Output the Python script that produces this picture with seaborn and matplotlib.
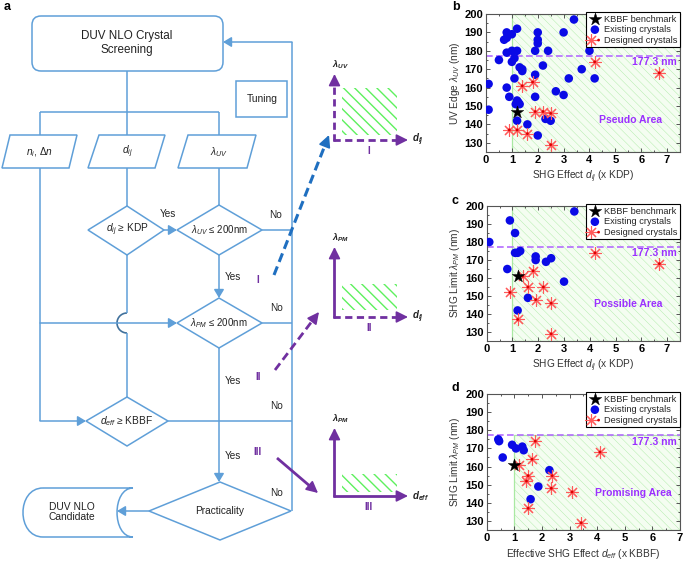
import matplotlib
matplotlib.use('Agg')
import matplotlib.pyplot as plt
import seaborn as sns
import numpy as np
import pandas as pd
from matplotlib.patches import Polygon, Rectangle, FancyBboxPatch, PathPatch, Arc
from matplotlib.path import Path
from matplotlib.ticker import MultipleLocator
from matplotlib.legend_handler import HandlerTuple

# ---------------- data ----------------
b_exist_x = [0.8, 1.0, 0.7, 0.8, 1.2, 0.8, 1.0, 1.2, 1.9, 2.4, 0.5, 1.1, 1.0, 1.3, 1.4, 1.4, 2.2, 1.9,
             1.1, 3.2, 0.8, 2.7, 3.0, 1.9, 0.9, 1.2, 1.25, 1.15, 1.3, 2.3, 2.5, 1.2, 1.6, 2.0,
             2.0, 2.0, 2.0, 3.0, 3.4, 4.0, 3.7, 4.2, 0.1, 0.1]
b_exist_y = [190, 189, 186, 187, 192, 179, 180, 180, 180, 180, 175, 176, 174, 171, 170, 169, 172, 167,
             165, 165, 160, 158, 156, 155, 155, 153, 152, 151, 151, 143, 142, 142, 140, 134,
             190, 186, 184, 190, 197, 180, 170, 165, 162, 148]
b_design_x = [1.4, 1.8, 1.9, 2.2, 2.5, 0.9, 1.2, 1.6, 2.5, 4.2, 6.7]
b_design_y = [161, 163, 147, 147, 146, 137, 137, 135, 129, 174, 168]
b_kbbf_x = [1.2]
b_kbbf_y = [147]

c_exist_x = [0.1, 0.9, 1.1, 1.1, 1.2, 1.3, 1.9, 1.9, 2.3, 2.5, 0.8, 3.0, 1.6, 1.2, 3.4]
c_exist_y = [180, 192, 185, 174, 174, 175, 172, 170, 169, 171, 165, 158, 149, 142, 197]
c_design_x = [1.4, 1.8, 0.9, 1.6, 2.2, 1.9, 2.5, 1.2, 2.5, 4.2, 6.7]
c_design_y = [161, 164, 152, 155, 155, 148, 146, 137, 129, 174, 168]
c_kbbf_x = [1.2]
c_kbbf_y = [161]

d_exist_x = [0.42, 0.45, 0.58, 0.92, 1.06, 1.29, 1.34, 2.27, 1.87, 1.59]
d_exist_y = [175, 174, 165, 172, 170, 171, 169, 158, 149, 142]
d_design_x = [1.76, 1.64, 1.16, 1.5, 1.44, 2.37, 2.34, 3.09, 1.5, 4.1, 3.42]
d_design_y = [174, 164, 161, 155, 152, 155, 148, 146, 137, 168, 129]
d_kbbf_x = [1.0]
d_kbbf_y = [161]

limit_nm = 177.3
legend_labels = ['KBBF benchmark', 'Existing crystals', 'Designed crystals']

# ---------------- style ----------------
sns.set_style('ticks')
plt.rcParams['font.family'] = ['Liberation Sans', 'DejaVu Sans']
plt.rcParams['mathtext.fontset'] = 'custom'
plt.rcParams['mathtext.rm'] = 'Liberation Sans'
plt.rcParams['mathtext.it'] = 'Liberation Sans:italic'
plt.rcParams['mathtext.bf'] = 'Liberation Sans:bold'
plt.rcParams['mathtext.bfit'] = 'Liberation Sans:italic:bold'

FC = '#5f9fd8'      # flowchart line colour
TXT = '#222222'
PURPLE = '#7030a0'
VIOLET = '#9b30ff'

fig = plt.figure(figsize=(6.85, 5.62), dpi=100)
ax0 = fig.add_axes([0, 0, 1, 1])
ax0.set_xlim(0, 685)
ax0.set_ylim(562, 0)
ax0.axis('off')


def line(xs, ys, color=FC, lw=1.1, **kw):
    ax0.plot(xs, ys, color=color, lw=lw, solid_capstyle='butt', **kw)


def arrow(p0, p1, color=FC, lw=1.1, hl=0.5, hw=0.3, ms=10):
    ax0.annotate('', xy=p1, xytext=p0,
                 arrowprops=dict(arrowstyle='-|>,head_length=%s,head_width=%s' % (hl, hw),
                                 color=color, lw=lw, shrinkA=0, shrinkB=0, mutation_scale=ms))


def styled_arrow(p0, p1, color, lw, dashes=None, head=9):
    p0 = np.array(p0, float)
    p1 = np.array(p1, float)
    v = p1 - p0
    v = v / np.hypot(*v)
    pb = p1 - v * head
    kw = {}
    if dashes is not None:
        kw['dashes'] = dashes
    ax0.plot([p0[0], pb[0] + v[0] * 2], [p0[1], pb[1] + v[1] * 2], color=color, lw=lw,
             solid_capstyle='butt', dash_capstyle='butt', **kw)
    ax0.annotate('', xy=tuple(p1), xytext=tuple(pb),
                 arrowprops=dict(arrowstyle='-|>,head_length=0.7,head_width=0.35', color=color,
                                 lw=lw * 0.6, shrinkA=0, shrinkB=0, mutation_scale=10))


def poly(pts, **kw):
    ax0.add_patch(Polygon(pts, closed=True, facecolor='white', edgecolor=FC, lw=1.1, **kw))


def label(x, y, s, size=7.3, color=TXT, **kw):
    ax0.text(x, y, s, ha='center', va='center', fontsize=size, color=color, **kw)


# ---- panel a: flowchart ----
ax0.add_patch(FancyBboxPatch((32, 16), 191, 55, boxstyle='round,pad=0,rounding_size=9',
                             facecolor='white', edgecolor=FC, lw=1.1))
label(127, 43, 'DUV NLO Crystal\nScreening', size=8.4, linespacing=1.15)
ax0.add_patch(Rectangle((236, 81), 51, 36, facecolor='white', edgecolor=FC, lw=1.1))
label(262, 99, 'Tuning', size=7.4)

line([127, 127], [71, 112])
line([40, 219], [112, 112])
for xx in (40, 127, 219):
    line([xx, xx], [112, 135])

poly([(10, 135), (77, 135), (69, 168), (2, 168)])
poly([(99, 135), (165, 135), (155, 168), (88, 168)])
poly([(188, 135), (256, 135), (247, 168), (178, 168)])
label(40, 152, r'$n_i$, $\Delta n$', size=7.3)
label(127, 152, r'$d_{ij}$', size=7.3)
label(219, 152, r'$\lambda_{UV}$', size=7.3)

# left branch
line([40, 40], [168, 421])
arrow((40, 421), (86, 421))
arrow((40, 323), (177, 323))
# middle branch
line([127, 127], [168, 206])
line([127, 127], [255, 313])
line([127, 127], [333, 397])
ax0.add_patch(Arc((127, 323), 20, 20, theta1=90, theta2=270, color='#41719c', lw=1.2))
arrow((164, 230), (177, 230))
# right branch
line([219, 219], [168, 205])
arrow((219, 255), (219, 298))
arrow((219, 348), (219, 482))
line([262, 292], [230, 230])
line([262, 292], [323, 323])
line([168, 292], [421, 421])
line([292, 292], [42, 511])
arrow((292, 42), (223, 42))
arrow((149, 511), (117, 511))

poly([(127, 206), (164, 230), (127, 255), (88, 230)])
poly([(219, 205), (262, 230), (219, 255), (177, 230)])
poly([(219, 298), (262, 323), (219, 348), (177, 323)])
poly([(127, 397), (168, 421), (127, 446), (86, 421)])
poly([(220, 482), (291, 511), (220, 540), (149, 511)])
label(127, 230, r'$d_{ij}$ ≥ KDP', size=7.3)
label(219, 230, r'$\lambda_{UV}$ ≤ 200nm', size=7.0)
label(219, 323, r'$\lambda_{PM}$ ≤ 200nm', size=7.0)
label(127, 421, r'$d_{eff}$ ≥ KBBF', size=7.3)
label(220, 511, 'Practicality', size=7.3)

verts = [(43, 488), (133, 488), (111.7, 488), (111.7, 537), (133, 537), (43, 537),
         (16.3, 537), (16.3, 488), (43, 488)]
codes = [Path.MOVETO, Path.LINETO, Path.CURVE4, Path.CURVE4, Path.CURVE4, Path.LINETO,
         Path.CURVE4, Path.CURVE4, Path.CURVE4]
ax0.add_patch(PathPatch(Path(verts, codes), facecolor='white', edgecolor=FC, lw=1.1))
label(72, 512, 'DUV NLO\nCandidate', size=7.4, linespacing=1.1)

for (x, y, s) in [(168, 214, 'Yes'), (276, 215, 'No'), (233, 277, 'Yes'), (277, 308, 'No'),
                  (233, 381, 'Yes'), (277, 406, 'No'), (233, 456, 'Yes'), (277, 493, 'No')]:
    label(x, y, s, size=7.2)
for (x, y, s) in [(258, 280, 'I'), (258, 377, 'II'), (258, 452, 'III')]:
    label(x, y, s, size=7.2, color=PURPLE, fontweight='bold')

# arrows to the small diagrams
styled_arrow((274, 275), (329, 135), '#1f6fc0', 2.2, dashes=(3, 1.6))
styled_arrow((275, 370), (319, 312), PURPLE, 2.0, dashes=(3, 1.6))
styled_arrow((277, 458), (318, 493), PURPLE, 2.0)

# small diagrams I, II, III
diagrams = [
    dict(y0=140, tip=74, rect=(88, 135), ylab=r'$\mathbfit{\lambda}_{\mathbfit{UV}}$',
         xlab=r'$\mathbfit{d}_{\mathbfit{ij}}$', roman='I', ydash=True, xdash=True),
    dict(y0=317, tip=247, rect=(284, 310), ylab=r'$\mathbfit{\lambda}_{\mathbfit{PM}}$',
         xlab=r'$\mathbfit{d}_{\mathbfit{ij}}$', roman='II', ydash=False, xdash=True),
    dict(y0=496, tip=428, rect=(474, 492), ylab=r'$\mathbfit{\lambda}_{\mathbfit{PM}}$',
         xlab=r'$\mathbfit{d}_{\mathbfit{eff}}$', roman='III', ydash=False, xdash=False),
]
xa = 334.5
for dg in diagrams:
    r0, r1 = dg['rect']
    hp = Rectangle((342, r0), 55, r1 - r0, facecolor='white', edgecolor='#5ef05e', lw=0,
                   hatch='\\\\\\')
    if hasattr(hp, 'set_hatch_linewidth'):
        hp.set_hatch_linewidth(1.0)
    ax0.add_patch(hp)
    styled_arrow((xa, dg['y0'] + 1), (xa, dg['tip']), PURPLE, 2.0,
                 dashes=(2.6, 1.6) if dg['ydash'] else None, head=8)
    styled_arrow((xa - 1, dg['y0']), (408, dg['y0']), PURPLE, 2.0,
                 dashes=(2.6, 1.6) if dg['xdash'] else None, head=8)
    ax0.text(xa - 2, dg['tip'] - 9, dg['ylab'], fontsize=6.5, color=TXT, ha='left', va='center')
    ax0.text(412, dg['y0'], dg['xlab'], fontsize=7, color=TXT, ha='left', va='center')
    label(369, dg['y0'] + 11, dg['roman'], size=7.2, color=PURPLE, fontweight='bold')

# panel letters
for (x, y, s) in [(4, 7, 'a'), (452, 7, 'b'), (452, 201, 'c'), (452, 388, 'd')]:
    ax0.text(x, y, s, fontsize=9, fontweight='bold', ha='left', va='center', color='black')


# ---- panels b, c, d ----
def panel(rect, ex, ey, dx, dy, kx, ky, xmax, hatch_top, xlabel, ylabel, area, area_xy, limx):
    ax = fig.add_axes(rect)
    ax.set_xlim(0, xmax)
    ax.set_ylim(125, 200)
    hp = Rectangle((1, 125), xmax - 1, hatch_top - 125, facecolor='#f4fdf1', edgecolor='#a9e9a2',
                   lw=0.9, hatch='\\\\\\\\', zorder=0)
    if hasattr(hp, 'set_hatch_linewidth'):
        hp.set_hatch_linewidth(0.3)
    ax.add_patch(hp)
    ax.axhline(limit_nm, color='#b46cff', lw=1.2, dashes=(4, 2), zorder=1)
    df_e = pd.DataFrame({'x': ex, 'y': ey})
    df_d = pd.DataFrame({'x': dx, 'y': dy})
    df_k = pd.DataFrame({'x': kx, 'y': ky})
    sns.scatterplot(data=df_e, x='x', y='y', ax=ax, color='#0a0ae6', s=38, edgecolor='none',
                    label=legend_labels[1], zorder=3)
    sns.scatterplot(data=df_d, x='x', y='y', ax=ax, marker=(8, 2, 0), color='#ff5a5a', s=75,
                    linewidth=0.8, zorder=4)
    sns.scatterplot(data=df_d, x='x', y='y', ax=ax, color='#dd0000', s=4, edgecolor='none',
                    zorder=5)
    sns.scatterplot(data=df_k, x='x', y='y', ax=ax, marker='*', color='black', s=90,
                    edgecolor='black', linewidth=0.3, label=legend_labels[0], zorder=6)
    ax.text(limx, 173.8, '177.3 nm', ha='right', va='center', color=VIOLET, fontsize=7.5,
            fontweight='bold')
    ax.text(area_xy[0], area_xy[1], area, ha='center', va='center', color=VIOLET, fontsize=7.5,
            fontweight='bold')
    ax.xaxis.set_major_locator(MultipleLocator(1))
    ax.xaxis.set_minor_locator(MultipleLocator(0.5))
    ax.yaxis.set_major_locator(MultipleLocator(10))
    ax.yaxis.set_minor_locator(MultipleLocator(5))
    ax.tick_params(which='both', direction='in', top=True, right=True, colors='#555555',
                   labelcolor='black', labelsize=8, pad=2, width=0.7)
    ax.tick_params(which='major', length=3)
    ax.tick_params(which='minor', length=1.6)
    for t in ax.get_xticklabels() + ax.get_yticklabels():
        t.set_fontweight('bold')
    for sp in ax.spines.values():
        sp.set_color('#555555')
        sp.set_linewidth(0.8)
    ax.set_xlabel(xlabel, fontsize=7.3, color='#333333', labelpad=3)
    ax.set_ylabel(ylabel, fontsize=7.3, color='#333333', labelpad=2)
    # legend
    h_e = ax.collections[0]
    h_a = ax.collections[1]
    h_dot = ax.collections[2]
    h_k = ax.collections[3]
    if ax.get_legend() is not None:
        ax.get_legend().remove()
    leg = ax.legend([h_k, h_e, (h_a, h_dot)], legend_labels, loc='upper right',
                    bbox_to_anchor=(1.0, 1.015), borderaxespad=0, fontsize=6.7, frameon=True,
                    fancybox=False, edgecolor='black', framealpha=1, borderpad=0.3,
                    labelspacing=0.15, handletextpad=0.3, handlelength=1.3,
                    handler_map={tuple: HandlerTuple(ndivide=None)})
    leg.get_frame().set_linewidth(0.8)
    leg.set_zorder(10)
    return ax


panel([0.7095, 0.7295, 0.2832, 0.2456], b_exist_x, b_exist_y, b_design_x, b_design_y,
      b_kbbf_x, b_kbbf_y, 7.5, 200, r'SHG Effect $d_{ij}$ (x KDP)', r'UV Edge $\lambda_{UV}$ (nm)',
      'Pseudo Area', (5.6, 142.5), 7.38)
panel([0.7105, 0.3932, 0.2822, 0.2402], c_exist_x, c_exist_y, c_design_x, c_design_y,
      c_kbbf_x, c_kbbf_y, 7.5, 200, r'SHG Effect $d_{ij}$ (x KDP)', r'SHG Limit $\lambda_{PM}$ (nm)',
      'Possible Area', (5.5, 145.6), 7.38)
panel([0.7105, 0.0569, 0.2822, 0.2420], d_exist_x, d_exist_y, d_design_x, d_design_y,
      d_kbbf_x, d_kbbf_y, 7.0, limit_nm, r'Effective SHG Effect $d_{eff}$ (x KBBF)',
      r'SHG Limit $\lambda_{PM}$ (nm)', 'Promising Area', (5.3, 145.6), 6.9)

fig.savefig('out.png', dpi=100)
